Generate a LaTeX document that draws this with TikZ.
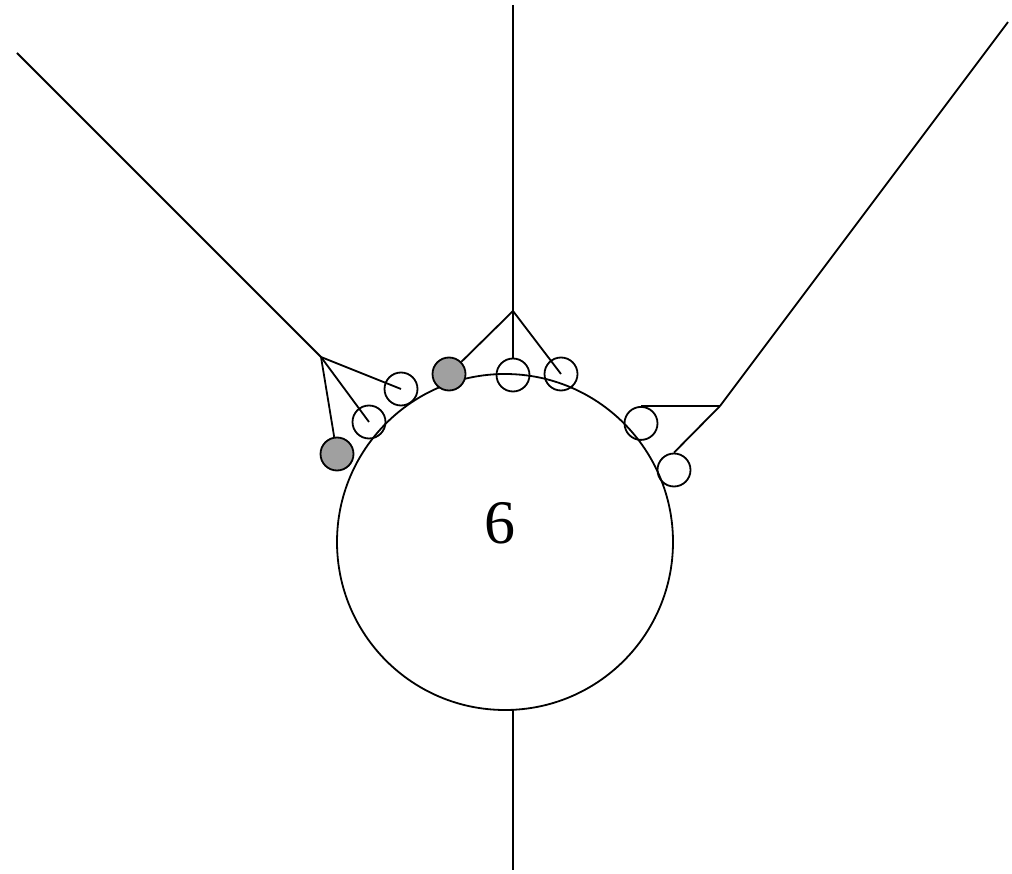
\documentclass[tikz,border=0pt]{standalone}
\usepackage{fontspec}
\setmainfont{Liberation Serif}
\definecolor{dotgray}{RGB}{160,160,160}
\begin{document}
\begin{tikzpicture}[x=1pt,y=-1pt,line width=1.8pt,
  dot/.style={circle,draw,minimum size=33pt,inner sep=0pt,line width=1.8pt},
  fdot/.style={dot,fill=dotgray},
  odot/.style={dot}]
\useasboundingbox (0,0) rectangle (1012,874);
% big circle
\node[circle,draw,minimum size=336pt,inner sep=0pt,line width=1.8pt] (big) at (505,542) {};
\node[inner sep=0pt,font=\fontsize{62}{62}\selectfont] (lbl) at (500,523) {6};
% outer ends and junctions
\coordinate (tl) at (17,53);
\coordinate (tt) at (513,5);
\coordinate (tr) at (1008,22);
\coordinate (bb) at (513,870);
\coordinate (bt) at (513,710);
\coordinate (j1) at (321,357);
\coordinate (j2) at (513,311);
\coordinate (j3) at (720,406);
% small circles
\node[odot] (c1) at (401,389) {};
\node[odot] (c2) at (369,422) {};
\node[fdot] (c3) at (337,454) {};
\node[fdot] (c4) at (449,374) {};
\node[odot] (c5) at (513,375) {};
\node[odot] (c6) at (561,374) {};
\node[odot] (c7) at (641,423.4) {};
\node[odot] (c8) at (674,470) {};
% connectors
\draw (tl) -- (j1);
\draw (tt) -- (j2);
\draw (tr) -- (j3);
\draw (bt) -- (bb);
\draw (j1) -- (c1.center);
\draw (j1) -- (c2.center);
\draw (j1) -- (c3);
\draw (j2) -- (c4);
\draw (j2) -- (c5.north);
\draw (j2) -- (c6.center);
\draw (j3) -- (c7.north);
\draw (j3) -- (c8.north);
\end{tikzpicture}
\end{document}
